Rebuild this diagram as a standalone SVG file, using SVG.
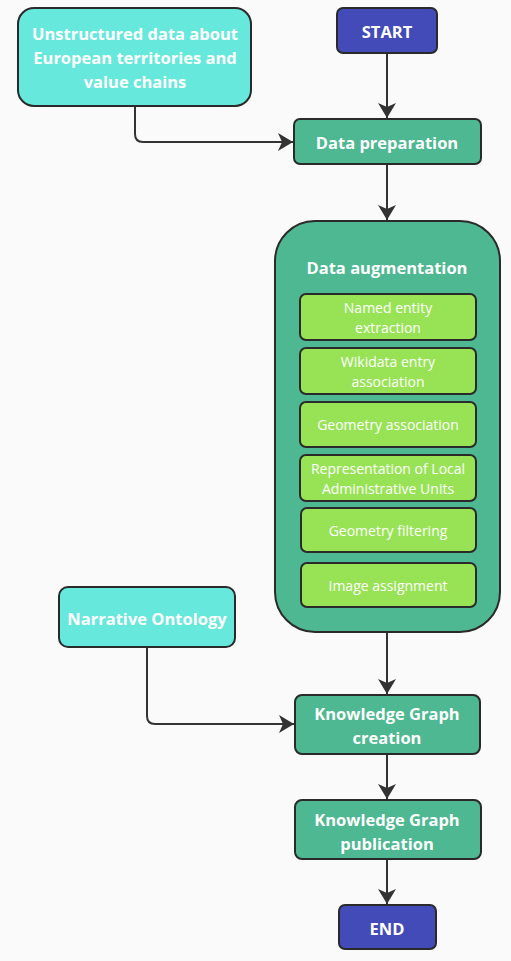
<svg xmlns="http://www.w3.org/2000/svg" width="511" height="961" viewBox="0 0 511 961">
<style>
.box{stroke:#2a2a2a;stroke-width:2}
.cyan{fill:#67E8DC}
.blue{fill:#434BB9}
.green{fill:#4DB891}
.lime{fill:#98E355}
.tb{font-family:"Open Sans","Noto Sans",sans-serif;font-weight:bold;font-size:16.5px;fill:#fff;text-anchor:middle;dominant-baseline:central}
.tn{font-family:"Open Sans","Noto Sans",sans-serif;font-size:14px;fill:#fff;text-anchor:middle;dominant-baseline:central}
.conn{fill:none;stroke:#333;stroke-width:2}
</style>
<defs>
<marker id="arr" markerUnits="userSpaceOnUse" markerWidth="20" markerHeight="20" refX="15" refY="9" orient="auto">
<path d="M0,0 L15,9 L0,18 L4,9 z" fill="#333"/>
</marker>
</defs>
<rect x="0" y="0" width="511" height="961" fill="#FAFAFA"/>
<g id="connectors">
<path class="conn" d="M387,53 V118" marker-end="url(#arr)"/>
<path class="conn" d="M135,106 V134 Q135,142 143,142 H293" marker-end="url(#arr)"/>
<path class="conn" d="M387,164 V220" marker-end="url(#arr)"/>
<path class="conn" d="M387,632 V694" marker-end="url(#arr)"/>
<path class="conn" d="M147,647 V716 Q147,724 155,724 H294" marker-end="url(#arr)"/>
<path class="conn" d="M387,754 V799" marker-end="url(#arr)"/>
<path class="conn" d="M387,859 V904" marker-end="url(#arr)"/>
</g>
<g id="unstructured">
<rect class="box cyan" x="18" y="8" width="233" height="98" rx="16"/>
<text class="tb" x="135" y="33">Unstructured data about</text>
<text class="tb" x="135" y="57">European territories and</text>
<text class="tb" x="135" y="81">value chains</text>
</g>
<g id="start">
<rect class="box blue" x="337" y="8" width="100" height="45" rx="6"/>
<text class="tb" x="387" y="31">START</text>
</g>
<g id="prep">
<rect class="box green" x="294" y="119" width="187" height="45" rx="6"/>
<text class="tb" x="387" y="142">Data preparation</text>
</g>
<g id="augmentation">
<rect class="box green" x="275" y="221" width="225" height="411" rx="40"/>
<text class="tb" x="387" y="267">Data augmentation</text>
</g>
<g id="ner">
<rect class="box lime" x="300" y="294" width="176" height="46" rx="6"/>
<text class="tn" x="388" y="307">Named entity</text>
<text class="tn" x="388" y="327">extraction</text>
</g>
<g id="wikidata">
<rect class="box lime" x="300" y="348" width="176" height="46" rx="6"/>
<text class="tn" x="388" y="361">Wikidata entry</text>
<text class="tn" x="388" y="381">association</text>
</g>
<g id="geomassoc">
<rect class="box lime" x="300" y="402" width="176" height="45" rx="6"/>
<text class="tn" x="388" y="424">Geometry association</text>
</g>
<g id="lau">
<rect class="box lime" x="300" y="455" width="176" height="46" rx="6"/>
<text class="tn" x="388" y="468">Representation of Local</text>
<text class="tn" x="388" y="488">Administrative Units</text>
</g>
<g id="geomfilter">
<rect class="box lime" x="301" y="508" width="175" height="44" rx="6"/>
<text class="tn" x="388" y="530">Geometry filtering</text>
</g>
<g id="image">
<rect class="box lime" x="301" y="563" width="175" height="44" rx="6"/>
<text class="tn" x="388" y="585">Image assignment</text>
</g>
<g id="ontology">
<rect class="box cyan" x="59" y="587" width="176" height="60" rx="9"/>
<text class="tb" x="147" y="618">Narrative Ontology</text>
</g>
<g id="kgcreation">
<rect class="box green" x="295" y="695" width="185" height="59" rx="7"/>
<text class="tb" x="387" y="713">Knowledge Graph</text>
<text class="tb" x="387" y="737">creation</text>
</g>
<g id="kgpub">
<rect class="box green" x="295" y="800" width="186" height="59" rx="7"/>
<text class="tb" x="387" y="819">Knowledge Graph</text>
<text class="tb" x="387" y="843">publication</text>
</g>
<g id="end">
<rect class="box blue" x="339" y="905" width="97" height="44" rx="6"/>
<text class="tb" x="387" y="928">END</text>
</g>
</svg>
